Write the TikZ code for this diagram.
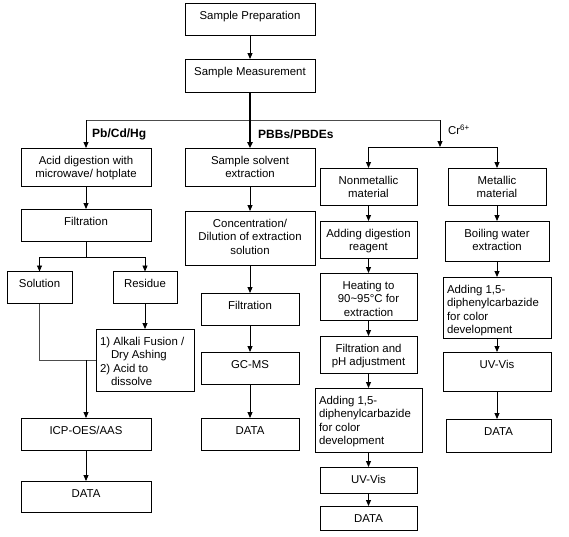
\documentclass[tikz,border=0pt]{standalone}
\usepackage{fontspec}
\setmainfont{Liberation Sans}
\usetikzlibrary{arrows.meta}
\newcommand\mkbox[5]{\node[box, minimum width={#4-#2}, minimum height={#5-#3}] (#1) at ({(#2+#4)/2},{(#3+#5)/2}) {};}
\newcommand\ctext[3]{\node[txt] (#1) at ([yshift=-6.5pt]#2.north) {\strut #3};}
\newcommand\ltext[3]{\node[ltxt] (#1) at ([xshift=3.8pt,yshift=-6.5pt]#2.north west) {\strut #3};}
\begin{document}
\begin{tikzpicture}[x=1pt,y=-1pt,
  box/.style={draw=black, line width=0.9pt, inner sep=0pt, outer sep=0pt},
  txt/.style={inner sep=0pt, font=\fontsize{11.4}{13.5}\selectfont, align=center, anchor=north},
  ltxt/.style={inner sep=0pt, font=\fontsize{11.4}{13.5}\selectfont, align=left, anchor=north west},
  lbl/.style={inner sep=0pt, font=\fontsize{12}{14}\selectfont\bfseries, anchor=west},
  crlbl/.style={inner sep=0pt, font=\fontsize{11.4}{13.5}\selectfont, anchor=west},
  conn/.style={line width=0.9pt},
  greyconn/.style={line width=0.9pt, draw=black!70},
  arr/.style={conn, -{Triangle[length=6pt,width=5pt]}},
  thickline/.style={line width=1.8pt},
  thickarr/.style={line width=1.4pt, -{Triangle[length=6pt,width=5.5pt]}},
]
\useasboundingbox[fill=white] (0,0) rectangle (569,536);

% top
\mkbox{prep}{185}{3}{315}{35}
\ctext{prept}{prep}{Sample Preparation}
\mkbox{meas}{185}{59}{315}{92}
\ctext{meast}{meas}{Sample Measurement}

% left column
\mkbox{acid}{21}{148}{151}{186}
\ctext{acidt}{acid}{Acid digestion with\\microwave/ hotplate}
\mkbox{filta}{21}{209}{151}{241}
\ctext{filtat}{filta}{Filtration}
\mkbox{sol}{7}{271.5}{72}{303.5}
\ctext{solt}{sol}{Solution}
\mkbox{res}{113}{271.5}{177}{303.5}
\ctext{rest}{res}{Residue}
\mkbox{alk}{96}{329}{194}{391}
\ltext{alkt}{alk}{1) Alkali Fusion /\\\hspace*{11pt}Dry Ashing\\2) Acid to\\\hspace*{11pt}dissolve}
\mkbox{icp}{21}{418}{151}{450}
\ctext{icpt}{icp}{ICP-OES/AAS}
\mkbox{dataa}{21}{481}{151}{512}
\ctext{dataat}{dataa}{DATA}

% middle column
\mkbox{sse}{185}{148}{315}{186}
\ctext{sset}{sse}{Sample solvent\\extraction}
\mkbox{conc}{185}{211}{315}{265}
\ctext{conct}{conc}{Concentration/\\Dilution of extraction\\solution}
\mkbox{filtb}{201}{293}{299}{325}
\ctext{filtbt}{filtb}{Filtration}
\mkbox{gcms}{201}{352}{299}{384}
\ctext{gcmst}{gcms}{GC-MS}
\mkbox{datab}{201}{418}{299}{450}
\ctext{databt}{datab}{DATA}

% Cr nonmetallic column
\mkbox{nonm}{320}{168}{417}{205}
\ctext{nonmt}{nonm}{Nonmetallic\\material}
\mkbox{adddig}{320}{221}{417}{258}
\ctext{adddigt}{adddig}{Adding digestion\\reagent}
\mkbox{heat}{320}{273}{417}{320}
\ctext{heatt}{heat}{Heating to\\90\textasciitilde95°C for\\extraction}
\mkbox{filtph}{320}{336}{417}{373}
\ctext{filtpht}{filtph}{Filtration and\\pH adjustment}
\mkbox{addl}{315}{388}{422}{452}
\ltext{addlt}{addl}{Adding 1,5-\\diphenylcarbazide\\for color\\development}
\mkbox{uvl}{320}{467}{417}{493}
\ctext{uvlt}{uvl}{UV-Vis}
\mkbox{datal}{320}{506}{417}{530}
\ctext{datalt}{datal}{DATA}

% Cr metallic column
\mkbox{metal}{448}{168}{546}{205}
\ctext{metalt}{metal}{Metallic\\material}
\mkbox{boil}{445}{221}{549}{261}
\ctext{boilt}{boil}{Boiling water\\extraction}
\mkbox{addr}{443}{277}{551}{338}
\ltext{addrt}{addr}{Adding 1,5-\\diphenylcarbazide\\for color\\development}
\mkbox{uvr}{443}{352}{551}{391}
\ctext{uvrt}{uvr}{UV-Vis}
\mkbox{datar}{446}{419}{551}{452}
\ctext{datart}{datar}{DATA}

% labels
\node[lbl] (lpb) at (92,134) {Pb/Cd/Hg};
\node[lbl] (lpbb) at (258,134) {PBBs/PBDEs};
\node[crlbl] (lcr) at (448,130) {Cr\textsuperscript{6+}};

% connectors top
\coordinate (bus) at (250,120);
\coordinate (crtop) at (440,120);
\coordinate (crj) at (440,147);
\draw[arr] (prep.south) -- (meas.north);
\draw[greyconn] (acid.north |- bus) -- (crtop);
\draw[thickline] (meas.south) -- (bus);
\draw[thickarr] (bus) -- (sse.north);
\draw[arr] (acid.north |- bus) -- (acid.north);
\draw[arr] (crtop) -- (crj);
\draw[conn] (nonm.north |- crj) -- (metal.north |- crj);
\draw[arr] (nonm.north |- crj) -- (nonm.north);
\draw[arr] (metal.north |- crj) -- (metal.north);

% left connectors
\coordinate (fj) at (86,257);
\draw[arr] (acid.south) -- (filta.north);
\draw[conn] (filta.south) -- (fj);
\draw[conn] (sol.north |- fj) -- (res.north |- fj);
\draw[arr] (sol.north |- fj) -- (sol.north);
\draw[arr] (res.north |- fj) -- (res.north);
\draw[arr] (res.south) -- (alk.north);
\draw[greyconn] (sol.south) -- (sol.south |- alk.west) -- (alk.west);
\draw[arr] (icp.north |- alk.west) -- (icp.north);
\draw[arr] (icp.south) -- (dataa.north);

% middle connectors
\draw[arr] (sse.south) -- (conc.north);
\draw[arr] (conc.south) -- (filtb.north);
\draw[arr] (filtb.south) -- (gcms.north);
\draw[arr] (gcms.south) -- (datab.north);

% nonmetallic connectors
\draw[arr] (nonm.south) -- (adddig.north);
\draw[arr] (adddig.south) -- (heat.north);
\draw[arr] (heat.south) -- (filtph.north);
\draw[arr] (filtph.south) -- (addl.north);
\draw[arr] (addl.south) -- (uvl.north);
\draw[arr] (uvl.south) -- (datal.north);

% metallic connectors
\draw[arr] (metal.south) -- (boil.north);
\draw[arr] (boil.south) -- (addr.north);
\draw[arr] (addr.south) -- (uvr.north);
\draw[arr] (uvr.south) -- (uvr.south |- datar.north);
\end{tikzpicture}
\end{document}
